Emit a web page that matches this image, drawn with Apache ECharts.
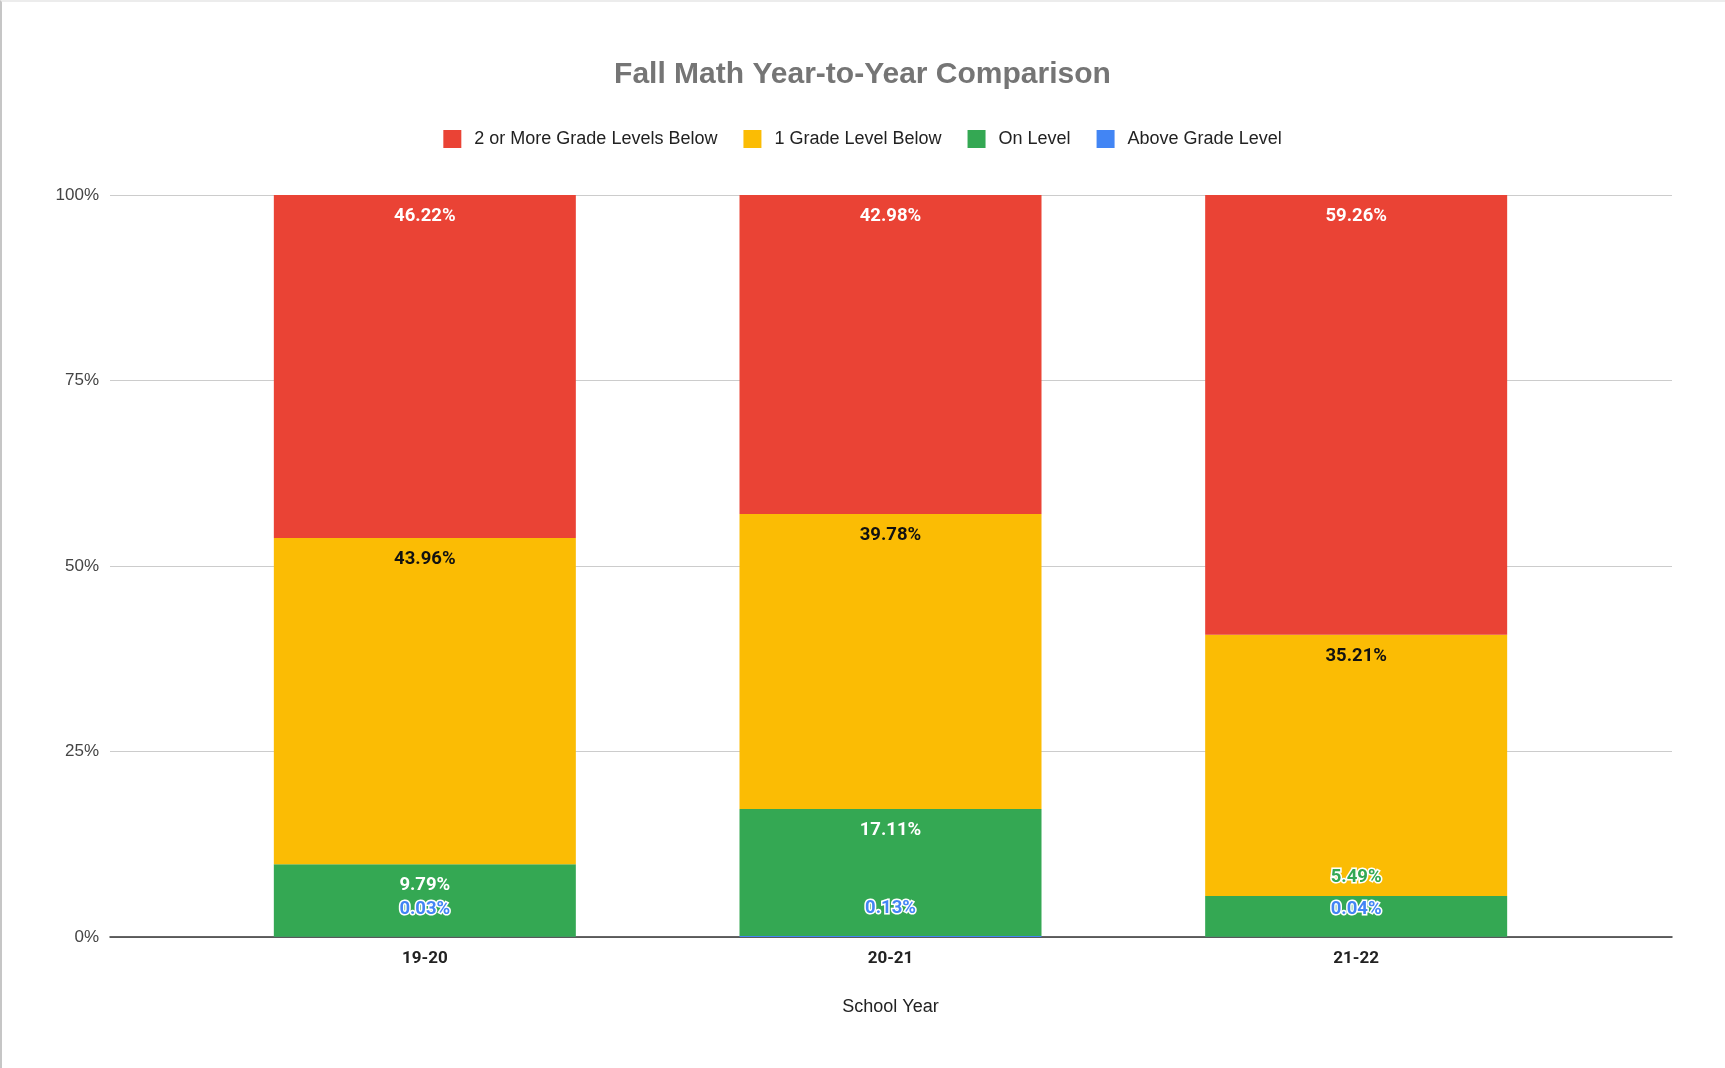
<!DOCTYPE html>
<html>
<head>
<meta charset="utf-8">
<script src="https://cdn.jsdelivr.net/npm/echarts@6/dist/echarts.min.js"></script>
<style>
	html, body { margin: 0; padding: 0; background: #fff; }
	#chart { width: 1725px; height: 1068px; }
	#frame {
		position: absolute; left: 0; top: 0; width: 1723px; height: 1066px;
		border-left: 2px solid #c6c6c6; border-top: 2px solid #ececec;
		pointer-events: none;
	}
</style>
</head>
<body>
<div id="chart"></div>
<div id="frame"></div>
<script>
// 学年
const years = ['19-20', '20-21', '21-22']
// 各等级占比 (%)
const twoOrMoreBelow = [46.22, 42.98, 59.26]
const oneBelow = [43.96, 39.78, 35.21]
const onLevel = [9.79, 17.11, 5.49]
const aboveLevel = [0.03, 0.13, 0.04]
const yTicks = [0, 25, 50, 75, 100]

const chartInstance = echarts.init(document.getElementById('chart'))

// 堆叠柱子，小数值的标签放到柱子上方
function makeSeries(name, values, color, labelColor, outsideDistance) {
	return {
		type: 'bar',
		name: name,
		stack: 'total',
		xAxisIndex: 1,
		yAxisIndex: 1,
		barWidth: 302,
		itemStyle: { color: color },
		label: {
			show: true,
			position: 'insideTop',
			distance: 12,
			color: labelColor,
			fontFamily: 'Roboto',
			fontWeight: 'bold',
			fontSize: 18.5,
			formatter: (p) => p.value.toFixed(2) + '%',
		},
		data: values.map((v) => {
			if (v >= 8) return v
			return {
				value: v,
				label: {
					position: 'top',
					distance: outsideDistance,
					color: color,
					textBorderColor: '#fff',
					textBorderWidth: 3,
				},
			}
		}),
	}
}

const option = {
	animation: false,
	title: {
		text: 'Fall Math Year-to-Year Comparison',
		left: 'center',
		top: 55,
		textStyle: {
			color: '#757575',
			fontFamily: 'Liberation Sans',
			fontWeight: 'bold',
			fontSize: 30,
		},
	},
	legend: {
		top: 125,
		left: 'center',
		icon: 'rect',
		itemWidth: 18,
		itemHeight: 18,
		itemGap: 26,
		data: ['2 or More Grade Levels Below', '1 Grade Level Below', 'On Level', 'Above Grade Level'],
		textStyle: {
			color: '#222',
			fontFamily: 'Liberation Sans',
			fontSize: 18,
			padding: [0, 0, 0, 8],
		},
	},
	grid: [
		{ left: 110, right: 53, top: 195, bottom: 131 },
		{ left: 192, right: 136, top: 195, bottom: 131 },
	],
	xAxis: [
		{
			type: 'value',
			gridIndex: 0,
			min: 0,
			max: 1,
			axisLine: { show: true, lineStyle: { color: '#333', width: 1.5 } },
			axisTick: { show: false },
			axisLabel: { show: false },
			splitLine: { show: false },
		},
		{
			type: 'category',
			gridIndex: 1,
			data: years,
			axisLine: { show: false },
			axisTick: { show: false },
			axisLabel: {
				color: '#222',
				fontFamily: 'Roboto',
				fontWeight: 'bold',
				fontSize: 17,
				margin: 13,
			},
			name: 'School Year',
			nameLocation: 'middle',
			nameGap: 61,
			nameTextStyle: { color: '#222', fontFamily: 'Liberation Sans', fontSize: 18 },
		},
	],
	yAxis: [
		{
			type: 'value',
			gridIndex: 0,
			min: yTicks[0],
			max: yTicks[yTicks.length - 1],
			interval: yTicks[1] - yTicks[0],
			axisLine: { show: false },
			axisTick: { show: false },
			axisLabel: {
				formatter: '{value}%',
				color: '#444',
				fontFamily: 'Liberation Sans',
				fontSize: 17,
				margin: 11,
			},
			splitLine: { lineStyle: { color: '#cccccc', width: 1 } },
		},
		{
			type: 'value',
			gridIndex: 1,
			min: yTicks[0],
			max: yTicks[yTicks.length - 1],
			show: false,
		},
	],
	series: [
		makeSeries('Above Grade Level', aboveLevel, '#4285F4', '#fff', 18),
		makeSeries('On Level', onLevel, '#34A853', '#fff', 9),
		makeSeries('1 Grade Level Below', oneBelow, '#FBBC04', '#111', 10),
		makeSeries('2 or More Grade Levels Below', twoOrMoreBelow, '#EA4335', '#fff', 10),
	],
}
chartInstance.setOption(option)
</script>
</body>
</html>
